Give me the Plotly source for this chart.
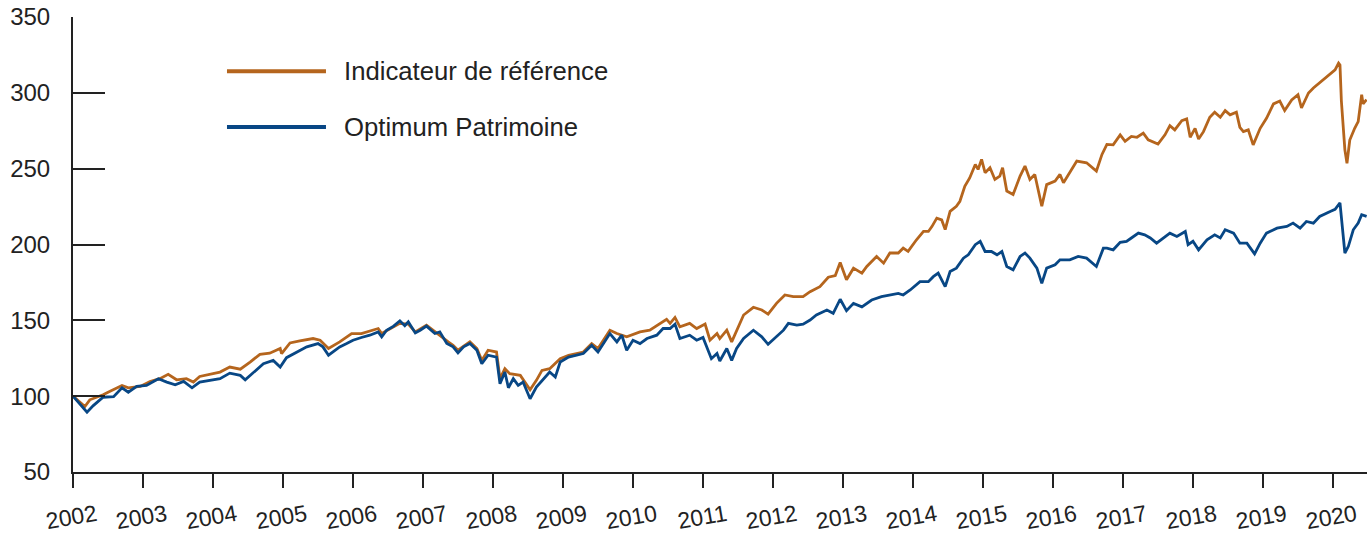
import plotly.graph_objects as go

years_ref = [2002.00, 2002.17, 2002.24, 2002.43, 2002.53, 2002.70, 2002.79, 2002.96, 2003.10, 2003.24,
             2003.36, 2003.48, 2003.62, 2003.72, 2003.81, 2003.96, 2004.10, 2004.24, 2004.39, 2004.53,
             2004.67, 2004.81, 2004.96, 2004.98, 2005.10, 2005.24, 2005.43, 2005.53, 2005.65, 2005.81,
             2005.98, 2006.12, 2006.24, 2006.36, 2006.41, 2006.53, 2006.67, 2006.79, 2006.89, 2007.05,
             2007.17, 2007.36, 2007.43, 2007.50, 2007.67, 2007.77, 2007.84, 2007.93, 2008.05, 2008.10,
             2008.17, 2008.24, 2008.39, 2008.53, 2008.62, 2008.70, 2008.81, 2008.96, 2009.08, 2009.29,
             2009.41, 2009.50, 2009.67, 2009.77, 2009.91, 2010.10, 2010.24, 2010.39, 2010.48, 2010.53,
             2010.60, 2010.67, 2010.81, 2010.91, 2011.03, 2011.10, 2011.20, 2011.24, 2011.34, 2011.41,
             2011.48, 2011.58, 2011.72, 2011.84, 2011.93, 2012.05, 2012.17, 2012.29, 2012.43, 2012.53,
             2012.67, 2012.79, 2012.89, 2012.96, 2013.05, 2013.15, 2013.27, 2013.34, 2013.48, 2013.58,
             2013.67, 2013.79, 2013.86, 2013.93, 2014.05, 2014.15, 2014.22, 2014.27, 2014.34, 2014.41,
             2014.46, 2014.53, 2014.62, 2014.67, 2014.74, 2014.81, 2014.89, 2014.93, 2014.98, 2015.03,
             2015.10, 2015.17, 2015.24, 2015.28, 2015.34, 2015.43, 2015.53, 2015.60, 2015.67, 2015.74,
             2015.84, 2015.91, 2016.03, 2016.10, 2016.15, 2016.24, 2016.34, 2016.48, 2016.62, 2016.70,
             2016.77, 2016.86, 2016.96, 2017.03, 2017.12, 2017.20, 2017.29, 2017.36, 2017.50, 2017.60,
             2017.67, 2017.74, 2017.84, 2017.91, 2017.96, 2018.03, 2018.08, 2018.15, 2018.24, 2018.31,
             2018.39, 2018.46, 2018.53, 2018.62, 2018.67, 2018.72, 2018.79, 2018.86, 2018.96, 2019.05,
             2019.15, 2019.24, 2019.31, 2019.41, 2019.50, 2019.55, 2019.65, 2019.72, 2019.81, 2019.96,
             2020.03, 2020.08, 2020.10, 2020.12, 2020.17, 2020.20, 2020.24, 2020.31, 2020.36, 2020.41,
             2020.43, 2020.48]
indicateur = [100.0, 93.2, 97.6, 100.9, 103.3, 107.1, 105.5, 106.4, 109.7, 111.5,
              114.4, 110.8, 111.5, 109.3, 113.0, 114.4, 115.9, 119.2, 117.8, 122.5,
              127.6, 128.3, 131.4, 128.1, 135.1, 136.4, 138.0, 136.9, 131.4, 135.8,
              141.3, 141.3, 143.0, 144.6, 141.3, 144.6, 148.0, 147.5, 142.4, 146.8,
              142.4, 135.8, 133.6, 130.3, 135.8, 131.4, 123.6, 130.3, 129.1, 111.5,
              118.1, 114.8, 113.7, 104.2, 110.4, 117.0, 118.1, 124.7, 127.0, 129.1,
              134.7, 131.4, 143.5, 141.3, 139.1, 142.4, 143.5, 148.0, 150.6, 148.0,
              151.9, 145.7, 148.0, 144.6, 147.5, 136.9, 141.3, 138.0, 143.5, 135.8,
              143.5, 153.5, 158.6, 156.8, 154.1, 161.2, 166.7, 165.6, 165.6, 168.9,
              172.2, 178.4, 179.5, 188.1, 176.7, 184.4, 181.1, 185.5, 192.1, 187.7,
              194.4, 194.4, 197.6, 195.5, 203.1, 208.6, 208.6, 211.8, 217.4, 216.2,
              209.8, 221.9, 225.2, 228.5, 238.4, 243.9, 252.8, 249.5, 256.1, 247.3,
              250.6, 242.9, 245.1, 250.6, 235.2, 233.0, 245.1, 251.7, 242.9, 246.2,
              225.2, 239.5, 241.8, 246.2, 240.7, 247.3, 255.0, 253.9, 248.4, 259.4,
              266.0, 265.7, 272.3, 268.0, 271.3, 270.7, 273.4, 269.0, 266.2, 272.3,
              278.4, 275.6, 281.7, 282.8, 270.7, 276.6, 269.5, 274.4, 283.9, 287.2,
              283.9, 288.3, 285.5, 287.2, 277.3, 274.4, 275.6, 265.7, 276.6, 283.2,
              292.7, 294.6, 288.3, 295.3, 298.8, 290.0, 299.9, 303.2, 306.5, 312.0,
              315.1, 319.6, 318.4, 294.6, 262.4, 253.6, 268.9, 276.6, 281.0, 298.8,
              292.7, 295.5]

years_opt = [2002.00, 2002.20, 2002.29, 2002.43, 2002.58, 2002.70, 2002.79, 2002.91, 2003.05, 2003.22,
             2003.34, 2003.46, 2003.58, 2003.70, 2003.81, 2003.96, 2004.10, 2004.24, 2004.39, 2004.46,
             2004.58, 2004.72, 2004.86, 2004.96, 2005.05, 2005.20, 2005.34, 2005.50, 2005.57, 2005.65,
             2005.74, 2005.81, 2005.91, 2006.00, 2006.12, 2006.24, 2006.36, 2006.41, 2006.48, 2006.58,
             2006.67, 2006.74, 2006.79, 2006.89, 2006.96, 2007.05, 2007.17, 2007.24, 2007.34, 2007.43,
             2007.50, 2007.58, 2007.67, 2007.77, 2007.84, 2007.93, 2008.05, 2008.10, 2008.17, 2008.22,
             2008.29, 2008.36, 2008.43, 2008.53, 2008.62, 2008.72, 2008.81, 2008.89, 2008.96, 2009.08,
             2009.20, 2009.29, 2009.41, 2009.50, 2009.67, 2009.77, 2009.84, 2009.91, 2010.00, 2010.10,
             2010.20, 2010.34, 2010.43, 2010.53, 2010.60, 2010.67, 2010.81, 2010.91, 2011.00, 2011.08,
             2011.12, 2011.20, 2011.24, 2011.34, 2011.41, 2011.48, 2011.58, 2011.72, 2011.84, 2011.93,
             2012.05, 2012.15, 2012.22, 2012.34, 2012.43, 2012.53, 2012.62, 2012.77, 2012.86, 2012.96,
             2013.05, 2013.15, 2013.27, 2013.41, 2013.55, 2013.67, 2013.79, 2013.86, 2013.96, 2014.10,
             2014.22, 2014.29, 2014.36, 2014.46, 2014.53, 2014.62, 2014.72, 2014.79, 2014.89, 2014.96,
             2015.03, 2015.12, 2015.20, 2015.27, 2015.34, 2015.43, 2015.53, 2015.60, 2015.67, 2015.77,
             2015.84, 2015.91, 2016.03, 2016.10, 2016.24, 2016.36, 2016.48, 2016.62, 2016.72, 2016.77,
             2016.86, 2016.96, 2017.05, 2017.12, 2017.22, 2017.31, 2017.39, 2017.48, 2017.58, 2017.67,
             2017.77, 2017.89, 2017.93, 2018.00, 2018.08, 2018.20, 2018.31, 2018.39, 2018.46, 2018.58,
             2018.67, 2018.77, 2018.88, 2018.96, 2019.05, 2019.20, 2019.34, 2019.43, 2019.53, 2019.62,
             2019.72, 2019.81, 2019.96, 2020.03, 2020.10, 2020.12, 2020.17, 2020.22, 2020.29, 2020.36,
             2020.41, 2020.48]
optimum = [100.0, 89.4, 93.8, 99.3, 99.7, 105.5, 102.6, 106.4, 107.1, 111.5,
           109.3, 107.5, 109.7, 105.5, 109.3, 110.4, 111.5, 115.2, 113.7, 110.8,
           115.9, 121.4, 123.6, 119.2, 125.4, 129.1, 132.5, 134.7, 132.5, 127.0,
           130.3, 132.5, 134.7, 136.9, 138.7, 140.2, 142.4, 139.1, 143.5, 146.2,
           149.7, 146.5, 149.0, 141.7, 143.5, 146.2, 141.3, 142.4, 134.7, 132.5,
           128.5, 132.5, 134.7, 130.3, 121.4, 127.0, 125.8, 108.2, 115.9, 105.5,
           111.5, 107.1, 109.3, 98.3, 106.0, 111.5, 115.9, 112.6, 122.5, 125.8,
           127.0, 128.1, 133.6, 129.1, 141.3, 135.8, 140.2, 130.3, 136.9, 134.7,
           138.0, 140.2, 144.6, 144.6, 147.5, 138.0, 140.2, 136.9, 138.7, 129.1,
           124.7, 128.1, 123.2, 131.4, 123.6, 131.4, 138.0, 143.5, 139.1, 134.2,
           139.1, 143.5, 148.0, 146.8, 147.5, 150.2, 153.5, 156.8, 154.6, 163.9,
           156.4, 161.2, 158.9, 163.4, 165.6, 166.7, 167.8, 166.7, 170.0, 175.5,
           175.5, 178.8, 181.1, 172.2, 182.2, 184.4, 191.0, 193.2, 199.9, 202.1,
           195.4, 195.4, 193.2, 195.4, 185.5, 183.3, 192.1, 194.4, 191.0, 184.4,
           174.4, 184.4, 186.6, 189.9, 189.9, 192.1, 191.0, 185.5, 197.6, 197.6,
           196.5, 201.4, 202.1, 204.3, 207.5, 206.4, 204.3, 200.9, 204.3, 207.5,
           205.3, 208.6, 199.9, 202.1, 196.5, 203.1, 206.4, 204.3, 209.7, 207.5,
           200.9, 200.9, 193.8, 200.9, 207.5, 210.8, 211.9, 214.1, 210.8, 215.2,
           214.1, 218.5, 221.8, 223.2, 227.4, 216.4, 194.4, 198.8, 209.7, 214.1,
           219.6, 218.5]

tick_years = list(range(2002, 2021))
tick_text = [str(y) for y in tick_years]
y_ticks = [50, 100, 150, 200, 250, 300, 350]

name_ref = "Indicateur de référence"
name_opt = "Optimum Patrimoine"
col_ref = "#B5651D"
col_opt = "#084785"
axis_col = "#222222"
font_family = "Liberation Sans, Arial, sans-serif"

fig = go.Figure()
fig.add_trace(go.Scatter(x=years_ref, y=indicateur, mode="lines", name=name_ref,
                         line=dict(color=col_ref, width=2.8), showlegend=False))
fig.add_trace(go.Scatter(x=years_opt, y=optimum, mode="lines", name=name_opt,
                         line=dict(color=col_opt, width=2.8), showlegend=False))

# legend drawn manually (long line samples)
legend_items = [(name_ref, col_ref, 0.881), (name_opt, col_opt, 0.758)]
for label, col, yy in legend_items:
    fig.add_shape(type="line", xref="paper", yref="paper", x0=0.119, x1=0.1955, y0=yy, y1=yy,
                  line=dict(color=col, width=4))
    fig.add_annotation(xref="paper", yref="paper", x=0.2075, y=yy, text=label, showarrow=False,
                       xanchor="left", yanchor="middle", font=dict(size=25.7, color="#222222"))

fig.update_layout(
    width=1367, height=534,
    margin=dict(l=73, r=0, t=17, b=62, autoexpand=False),
    paper_bgcolor="white", plot_bgcolor="white",
    font=dict(family=font_family, color="#222222"),
    xaxis=dict(range=[2002, 2020.486], tickvals=tick_years, ticktext=tick_text,
               automargin=False,
               showgrid=False, zeroline=False, showline=True, linecolor=axis_col, linewidth=2,
               ticks="outside", ticklen=14, tickwidth=2, tickcolor=axis_col,
               tickangle=-10, ticklabelshift=23, ticklabelstandoff=5,
               tickfont=dict(size=23, color="#222222")),
    yaxis=dict(range=[50, 350], tickvals=y_ticks, automargin=False,
               showgrid=False, zeroline=False, showline=True, linecolor=axis_col, linewidth=2,
               ticks="inside", ticklen=32, tickwidth=2, tickcolor=axis_col,
               ticklabelstandoff=16,
               tickfont=dict(size=24, color="#222222")),
)

fig.write_html("out.html", config={"displayModeBar": False},
               post_script="document.body.style.margin='0';document.body.style.overflow='hidden';")
